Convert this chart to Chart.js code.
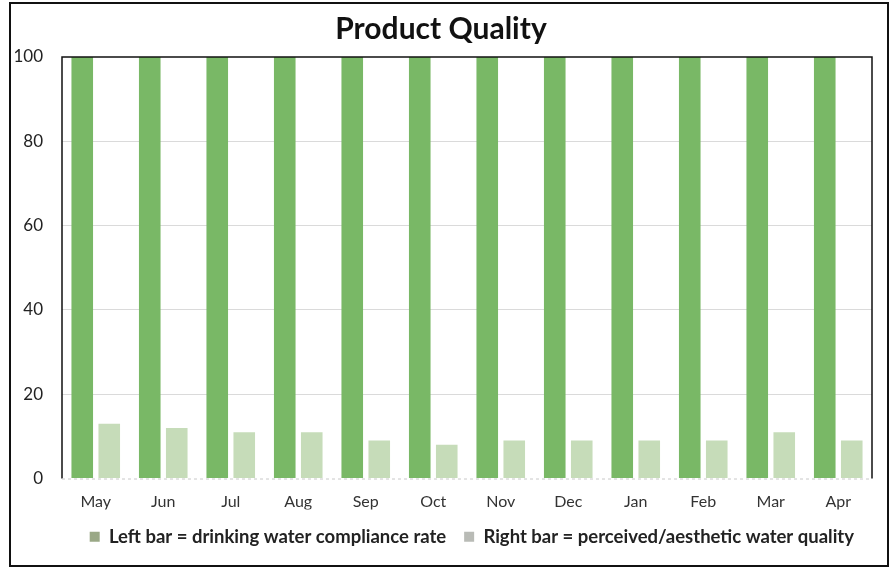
<!DOCTYPE html>
<html>
<head>
<meta charset="utf-8">
<script src="https://cdn.jsdelivr.net/npm/chart.js@4/dist/chart.umd.min.js"></script>
<style>
  html, body { margin: 0; padding: 0; background: #fff; }
  #wrap { width: 895px; height: 569px; position: relative; }
</style>
</head>
<body>
<div id="wrap"><canvas id="chart" width="895" height="569"></canvas></div>
<script>
// months and the two monthly series
const months = ['May', 'Jun', 'Jul', 'Aug', 'Sep', 'Oct', 'Nov', 'Dec', 'Jan', 'Feb', 'Mar', 'Apr']
const complianceRate = [100, 100, 100, 100, 100, 100, 100, 100, 100, 100, 100, 100] // drinking water compliance
const aestheticQuality = [13, 12, 11, 11, 9, 8, 9, 9, 9, 9, 11, 9] // perceived/aesthetic quality
const yTicks = [0, 20, 40, 60, 80, 100]

const FONT = 'Lato, "Open Sans", sans-serif'

// frame around the whole chart plus the plot box (top, left, right)
const framePlugin = {
    id: 'frame',
    afterDraw(chart) {
        const ctx = chart.ctx
        const a = chart.chartArea
        ctx.save()
        ctx.strokeStyle = '#111'
        ctx.lineWidth = 2
        ctx.strokeRect(10, 3, 878, 563)

        ctx.lineWidth = 1.5
        ctx.beginPath()
        ctx.moveTo(a.left, a.bottom)
        ctx.lineTo(a.left, a.top)
        ctx.lineTo(a.right, a.top)
        ctx.lineTo(a.right, a.bottom)
        ctx.stroke()

        // dashed zero line
        ctx.strokeStyle = '#c8c8c8'
        ctx.lineWidth = 1
        ctx.setLineDash([3, 3])
        ctx.beginPath()
        ctx.moveTo(a.left, a.bottom + 0.5)
        ctx.lineTo(a.right, a.bottom + 0.5)
        ctx.stroke()
        ctx.restore()
    }
}

new Chart(document.getElementById('chart'), {
    type: 'bar',
    data: {
        labels: months,
        datasets: [
            {
                label: 'Left bar = drinking water compliance rate',
                data: complianceRate,
                backgroundColor: '#79b866',
                categoryPercentage: 0.8,
                barPercentage: 0.8
            },
            {
                label: 'Right bar = perceived/aesthetic water quality',
                data: aestheticQuality,
                backgroundColor: '#c6dcb9',
                categoryPercentage: 0.8,
                barPercentage: 0.8
            }
        ]
    },
    options: {
        responsive: false,
        animation: false,
        layout: { padding: { left: 10, right: 23, top: 0, bottom: 13 } },
        plugins: {
            title: {
                display: true,
                text: 'Product Quality',
                color: '#111',
                font: { family: FONT, size: 30, weight: 'bold' },
                padding: { top: 11, bottom: 10 }
            },
            legend: {
                position: 'bottom',
                align: 'end',
                labels: {
                    color: '#222',
                    font: { family: FONT, size: 18.5, weight: 'bold' },
                    boxWidth: 10,
                    boxHeight: 10,
                    padding: 18,
                    generateLabels(chart) {
                        const swatch = ['#9aa886', '#b9bbb6']
                        return chart.data.datasets.map((ds, i) => ({
                            text: ds.label,
                            fillStyle: swatch[i],
                            strokeStyle: swatch[i],
                            lineWidth: 0,
                            datasetIndex: i,
                            fontColor: '#222'
                        }))
                    }
                }
            },
            tooltip: { enabled: false }
        },
        scales: {
            x: {
                grid: { display: false, drawTicks: false },
                border: { display: false },
                ticks: {
                    color: '#333',
                    font: { family: FONT, size: 16 },
                    padding: 14
                },
                afterFit(scale) { scale.height = 31 }
            },
            y: {
                min: 0,
                max: 100,
                afterBuildTicks(scale) { scale.ticks = yTicks.map(v => ({ value: v })) },
                grid: {
                    color: ctx => (ctx.tick.value === 0 || ctx.tick.value === 100) ? 'rgba(0,0,0,0)' : '#dadada',
                    drawTicks: false
                },
                border: { display: false },
                ticks: {
                    color: '#222',
                    font: { family: FONT, size: 17 },
                    padding: 19
                },
                afterFit(scale) { scale.width = 52 }
            }
        }
    },
    plugins: [framePlugin]
})
</script>
</body>
</html>
